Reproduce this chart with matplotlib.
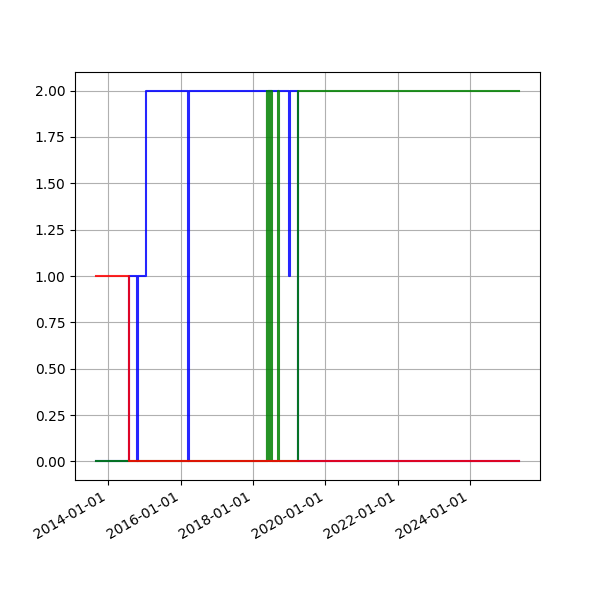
import matplotlib
matplotlib.use("Agg")
import matplotlib.pyplot as plt
import matplotlib.dates as mdates
import numpy as np

# state of each series over time (step changes)
blue_dates = ["2013-09-01", "2014-07-31", "2014-10-15", "2014-10-25", "2015-01-15",
              "2016-03-20", "2016-03-30", "2019-01-01", "2019-01-10", "2019-04-01",
              "2025-05-08"]
blue_vals = [0, 1, 0, 1, 2, 0, 2, 1, 2, 0, 0]

green_dates = ["2013-09-01", "2018-05-22", "2018-05-27", "2018-06-02", "2018-06-07",
               "2018-06-13", "2018-06-18", "2018-06-24", "2018-06-29", "2018-07-04",
               "2018-07-09", "2018-09-15", "2018-09-20", "2019-04-01", "2025-05-08"]
green_vals = [0, 2, 0, 2, 0, 2, 0, 2, 0, 2, 0, 2, 0, 2, 2]

red_dates = ["2013-09-01", "2014-07-31", "2025-05-08"]
red_vals = [1, 0, 0]

fig, ax = plt.subplots(figsize=(6, 6), dpi=100)

ax.step(np.array(blue_dates, dtype="datetime64[D]"), blue_vals, where="post", color="b", alpha=0.85)
ax.step(np.array(green_dates, dtype="datetime64[D]"), green_vals, where="post", color="g", alpha=0.85)
ax.step(np.array(red_dates, dtype="datetime64[D]"), red_vals, where="post", color="r", alpha=0.85)

ax.xaxis.set_major_locator(mdates.YearLocator(2))
ax.xaxis.set_major_formatter(mdates.DateFormatter("%Y-%m-%d"))
ax.grid(True)
fig.autofmt_xdate()

plt.savefig("out.png")
